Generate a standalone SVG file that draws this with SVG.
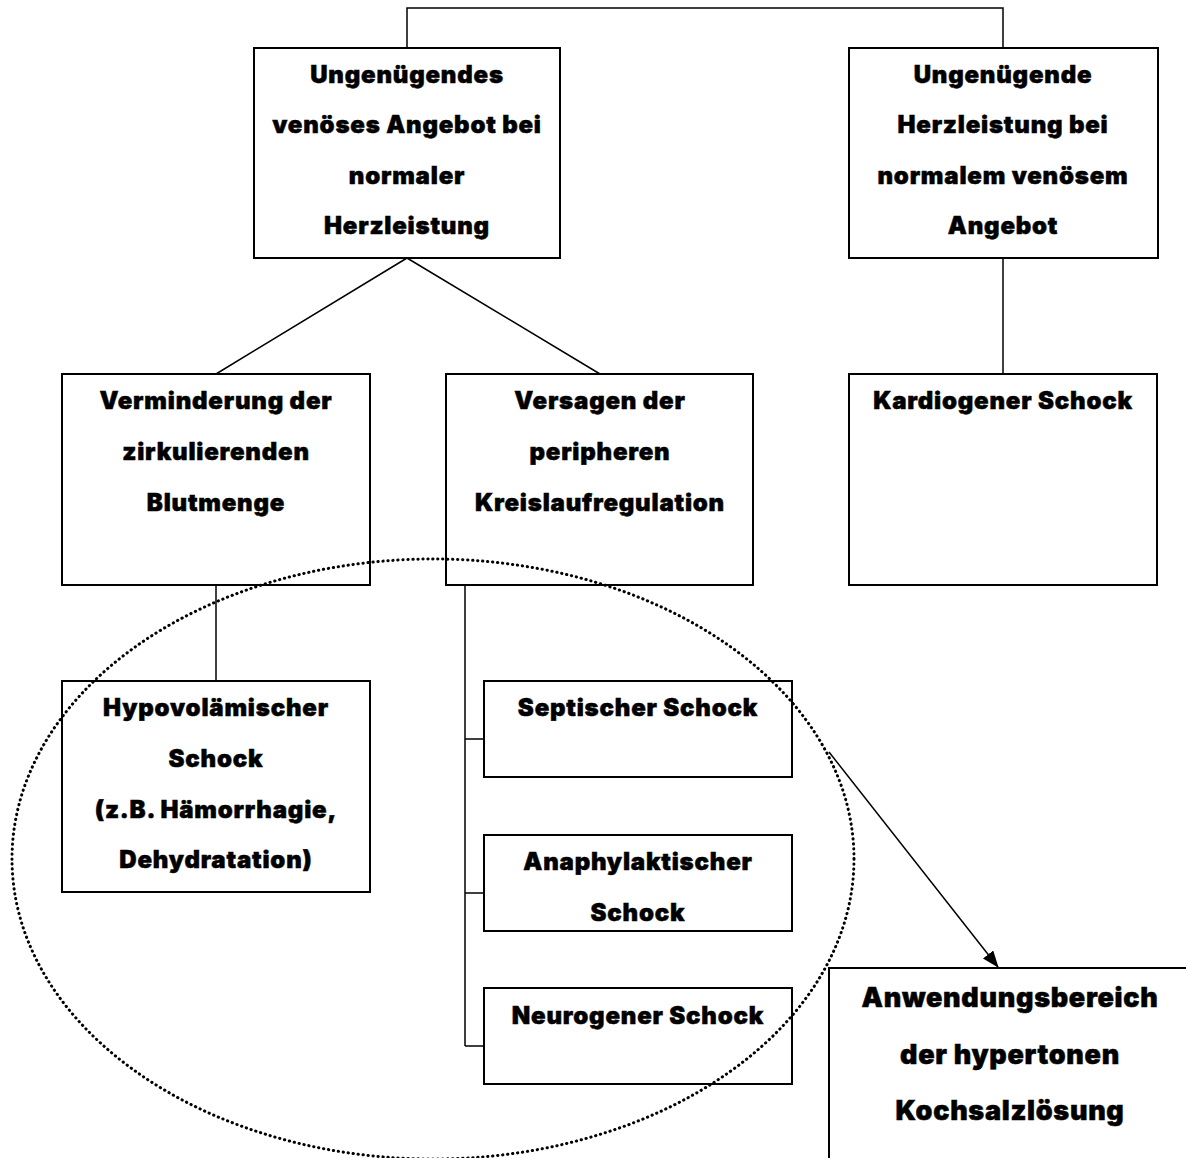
<svg xmlns="http://www.w3.org/2000/svg" width="1186" height="1158" viewBox="0 0 1186 1158">
<style>
.box{fill:#fff;stroke:#000;stroke-width:2}
.t{font-family:Inter,"Liberation Sans",Arial,sans-serif;font-weight:900;font-size:24px;letter-spacing:0.8px;text-anchor:middle;fill:#000;stroke:#000;stroke-width:0.5}
.tb{font-size:27px;letter-spacing:0.7px}
.c{fill:none;stroke:#000;stroke-width:1.5}
.e{fill:none;stroke:#000;stroke-width:3;stroke-dasharray:0.3 4.7;stroke-linecap:round}
</style>
<defs>
<marker id="ah" markerWidth="17" markerHeight="13" refX="16" refY="6.5" orient="auto" markerUnits="userSpaceOnUse">
<path d="M0,0 L17,6.5 L0,13 z" fill="#000"/>
</marker>
</defs>
<rect width="1186" height="1158" fill="#fff"/>
<g id="connectors">
<path class="c" d="M407,48 V8 H1003 V48"/>
<path class="c" d="M407,258 L216,374 M407,258 L600,374"/>
<path class="c" d="M1003,258 V374"/>
<path class="c" d="M216,585 V681"/>
<path class="c" d="M465,585 V1046 M465,739 H484 M465,893 H484 M465,1046 H484"/>
<line class="c" x1="829" y1="752" x2="998" y2="967" marker-end="url(#ah)"/>
</g>
<g id="n1"><rect class="box" x="254" y="48" width="306" height="210"/>
<text class="t" x="407" y="83">Ungenügendes</text>
<text class="t" x="407" y="133">venöses Angebot bei</text>
<text class="t" x="407" y="184">normaler</text>
<text class="t" x="407" y="234">Herzleistung</text></g>
<g id="n2"><rect class="box" x="849" y="48" width="309" height="210"/>
<text class="t" x="1003" y="83">Ungenügende</text>
<text class="t" x="1003" y="133">Herzleistung bei</text>
<text class="t" x="1003" y="184">normalem venösem</text>
<text class="t" x="1003" y="234">Angebot</text></g>
<g id="n3"><rect class="box" x="62" y="374" width="308" height="211"/>
<text class="t" x="216" y="409">Verminderung der</text>
<text class="t" x="216" y="460">zirkulierenden</text>
<text class="t" x="216" y="511">Blutmenge</text></g>
<g id="n4"><rect class="box" x="446" y="374" width="307" height="211"/>
<text class="t" x="600" y="409">Versagen der</text>
<text class="t" x="600" y="460">peripheren</text>
<text class="t" x="600" y="511">Kreislaufregulation</text></g>
<g id="n5"><rect class="box" x="849" y="374" width="308" height="211"/>
<text class="t" x="1003" y="409">Kardiogener Schock</text></g>
<g id="n6"><rect class="box" x="62" y="681" width="308" height="211"/>
<text class="t" x="216" y="716">Hypovolämischer</text>
<text class="t" x="216" y="767">Schock</text>
<text class="t" x="216" y="818">(z.B. Hämorrhagie,</text>
<text class="t" x="216" y="868">Dehydratation)</text></g>
<g id="n7"><rect class="box" x="484" y="681" width="308" height="96"/>
<text class="t" x="638" y="716">Septischer Schock</text></g>
<g id="n8"><rect class="box" x="484" y="835" width="308" height="96"/>
<text class="t" x="638" y="870">Anaphylaktischer</text>
<text class="t" x="638" y="921">Schock</text></g>
<g id="n9"><rect class="box" x="484" y="988" width="308" height="96"/>
<text class="t" x="638" y="1024">Neurogener Schock</text></g>
<g id="n10"><rect class="box" x="829" y="968" width="400" height="260"/>
<text class="t tb" x="1010" y="1007">Anwendungsbereich</text>
<text class="t tb" x="1010" y="1064">der hypertonen</text>
<text class="t tb" x="1010" y="1120">Kochsalzlösung</text></g>
<ellipse id="ellipse" class="e" cx="433" cy="859" rx="421" ry="300"/>
</svg>
